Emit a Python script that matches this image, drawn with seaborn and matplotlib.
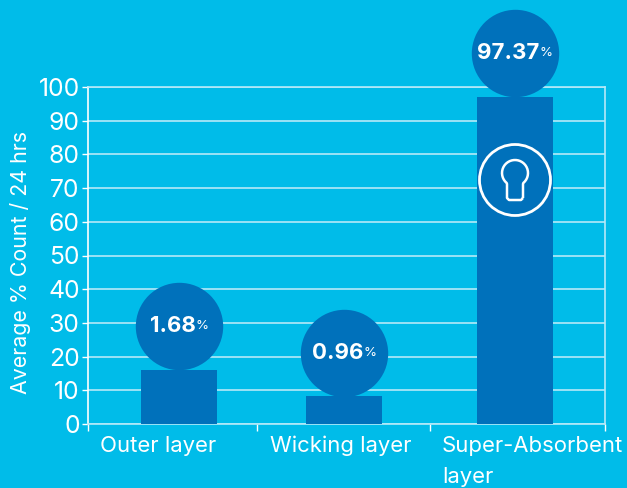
import numpy as np
import matplotlib.pyplot as plt
import seaborn as sns
import pandas as pd
from matplotlib.path import Path
from matplotlib.patches import PathPatch, Circle
from matplotlib.transforms import Affine2D

layers = ['Outer layer', 'Wicking layer', 'Super-Absorbent\nlayer']
bar_heights = [16, 8.2, 97]
pct_labels = ['1.68', '0.96', '97.37']
yticks = list(range(0, 101, 10))

BG = '#00BCE9'
BLUE = '#0071BB'
GRID = '#B5E9F8'

plt.rcParams['font.family'] = ['Inter', 'DejaVu Sans']
W, H = 627, 488
fig = plt.figure(figsize=(W / 100, H / 100), dpi=100, facecolor=BG)
# axes box in pixels: x 88-605, y 87-424
ax = fig.add_axes([88 / W, 1 - 424 / H, (605 - 88) / W, (424 - 87) / H], facecolor=BG)

df = pd.DataFrame({'layer': layers, 'value': bar_heights})
sns.barplot(data=df, x='layer', y='value', color=BLUE, saturation=1, width=0.452, ax=ax, zorder=3)

# centre of first bar at px 178, spacing 168 px
ax.set_xlim((88 - 178) / 168, (605 - 178) / 168)
ax.set_ylim(0, 100)
ax.set_yticks(yticks)
ax.grid(axis='y', color=GRID, lw=1.2, zorder=1)
ax.grid(axis='x', visible=False)
ax.set_axisbelow(True)

# bars in the original are not quite evenly spaced
nudge = np.array([1, -2, 1]) / 168
for p, dx in zip(ax.patches, nudge):
    p.set_x(p.get_x() + dx)

for s in ax.spines.values():
    s.set_color(GRID)
    s.set_linewidth(1.2)
ax.spines['left'].set_color('white')

ax.tick_params(axis='y', colors='white', labelsize=17.8, length=4, width=1, pad=2)
# separators between the categories
seps = [(p - 178) / 168 for p in (88, 257, 430, 605)]
ax.set_xticks(seps)
ax.set_xticklabels([])
ax.tick_params(axis='x', colors='white', length=5, width=1)
ax.set_xlabel('')
ax.set_ylabel('Average % Count / 24 hrs', color='white', fontsize=15.4)
ax.yaxis.set_label_coords(-0.110, 0.48)

# category labels
label_px = [158, 341, 442]
for i, lab in enumerate(layers):
    ha = 'left' if '\n' in lab else 'center'
    ax.text((label_px[i] - 178) / 168, -0.035, lab, transform=ax.get_xaxis_transform(),
            color='white', fontsize=15.9, ha=ha, va='top', linespacing=1.72)

# value bubbles sit on top of the bars
radius = 43.7
upp = 100 / 337
fig.canvas.draw()
r = fig.canvas.get_renderer()
inv = ax.transData.inverted()
for i, (h, lab) in enumerate(zip(bar_heights, pct_labels)):
    cy = h + radius * upp
    xc = i + nudge[i]
    ax.scatter([xc], [cy], s=(2 * radius * 0.72) ** 2, color=BLUE, linewidths=0, zorder=4, clip_on=False)
    t1 = ax.text(xc, cy, lab, color='white', fontsize=16, fontweight='bold', ha='left', va='center',
                 zorder=5, clip_on=False)
    t2 = ax.text(xc, cy, '%', color='white', fontsize=9.5, ha='left', va='center', zorder=5, clip_on=False)
    w1 = t1.get_window_extent(r).width
    w2 = t2.get_window_extent(r).width
    x0 = ax.transData.transform((xc, cy))[0] - (w1 + w2) / 2
    t1.set_x(inv.transform((x0, 0))[0])
    t2.set_x(inv.transform((x0 + w1, 0))[0])

# keyhole icon on the tall bar
cx, cy = ax.transData.transform((2 + nudge[2], 0))[0], H - 180
fig.add_artist(Circle((cx, cy), 35.5, transform=None, fc='none', ec='white', lw=2, zorder=6))
th = np.linspace(-np.pi / 3.6, np.pi + np.pi / 3.6, 30)
head = [(13 * np.cos(a), 7 + 13 * np.sin(a)) for a in th]
outline = [(8, -18), (8, -4)] + head + [(-8, -4), (-8, -18), (-6, -20), (6, -20), (8, -18)]
key = Path(outline, closed=False)
fig.add_artist(PathPatch(key, transform=Affine2D().translate(cx, cy), fc='none', ec='white', lw=1.8,
                         joinstyle='round', zorder=6))

fig.savefig('out.png', dpi=100, facecolor=BG)
